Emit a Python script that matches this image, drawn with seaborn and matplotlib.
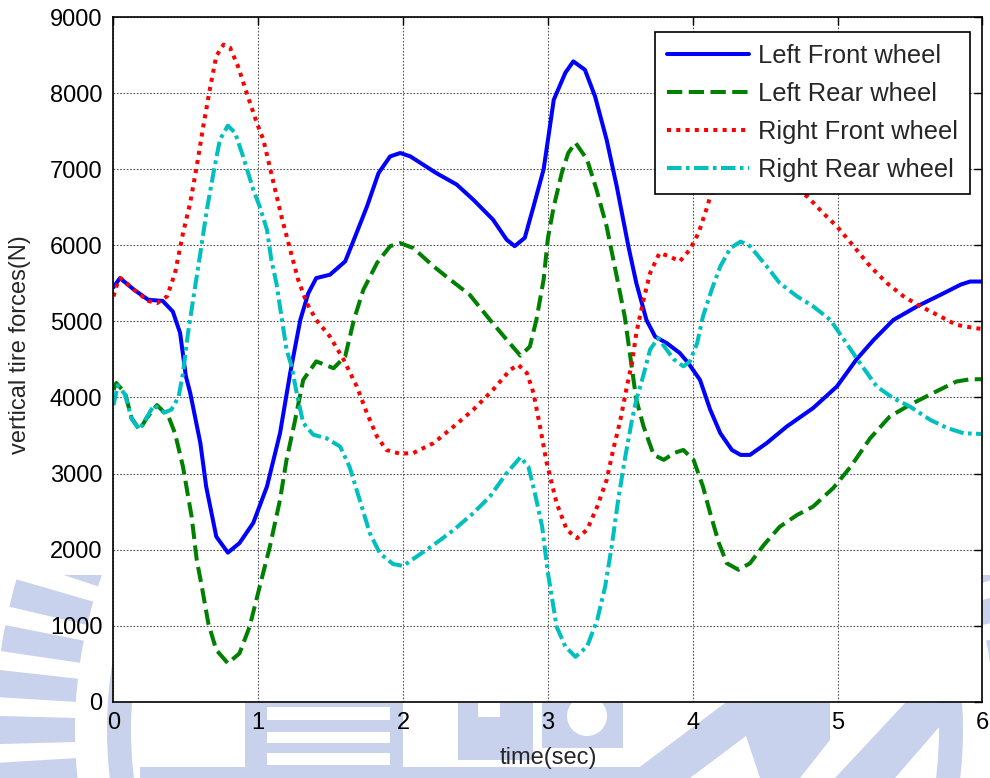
import numpy as np
import pandas as pd
import matplotlib
matplotlib.use("Agg")
import matplotlib.pyplot as plt
import matplotlib.patches as mpatches
from matplotlib.transforms import IdentityTransform
import seaborn as sns

# ---- tire force traces (time in s, force in N) ----
lf_time = [0, 0.045, 0.14, 0.24, 0.34, 0.41, 0.46, 0.50, 0.53, 0.60, 0.64, 0.71,
           0.79, 0.87, 0.965, 1.06, 1.15, 1.22, 1.29, 1.345, 1.40, 1.495, 1.60,
           1.66, 1.75, 1.83, 1.91, 1.98, 2.05, 2.23, 2.37, 2.485, 2.62, 2.715,
           2.77, 2.84, 2.90, 2.97, 3.01, 3.04, 3.12, 3.175, 3.255, 3.325, 3.405,
           3.475, 3.555, 3.61, 3.68, 3.74, 3.82, 3.91, 3.97, 4.05, 4.12, 4.19,
           4.27, 4.33, 4.395, 4.51, 4.65, 4.83, 4.995, 5.13, 5.25, 5.385, 5.55,
           5.71, 5.85, 5.915, 6.0]
lf_force = [5450, 5570, 5420, 5285, 5270, 5130, 4850, 4280, 4060, 3400, 2830, 2170,
            1960, 2085, 2350, 2830, 3530, 4320, 5020, 5370, 5570, 5615, 5790,
            6075, 6510, 6950, 7170, 7215, 7170, 6950, 6800, 6600, 6340, 6075,
            5990, 6100, 6510, 7000, 7520, 7915, 8270, 8420, 8310, 7960, 7390,
            6775, 5990, 5505, 5020, 4800, 4715, 4585, 4450, 4230, 3840, 3530,
            3310, 3245, 3245, 3400, 3620, 3860, 4145, 4500, 4760, 5020, 5200,
            5350, 5485, 5525, 5525]

lr_time = [0, 0.02, 0.08, 0.125, 0.18, 0.23, 0.30, 0.38, 0.425, 0.48, 0.54, 0.575,
           0.61, 0.655, 0.71, 0.79, 0.87, 0.94, 1.01, 1.08, 1.15, 1.195, 1.25,
           1.31, 1.40, 1.52, 1.60, 1.66, 1.725, 1.82, 1.91, 1.98, 2.07, 2.21,
           2.325, 2.46, 2.60, 2.715, 2.81, 2.875, 2.92, 2.97, 3.00, 3.04, 3.095,
           3.14, 3.19, 3.27, 3.335, 3.405, 3.475, 3.53, 3.565, 3.61, 3.66, 3.73,
           3.80, 3.87, 3.935, 4.005, 4.07, 4.12, 4.18, 4.235, 4.315, 4.395, 4.49,
           4.60, 4.72, 4.83, 4.97, 5.09, 5.225, 5.36, 5.50, 5.66, 5.82, 5.915, 6.0]
lr_force = [4100, 4190, 4060, 3730, 3575, 3730, 3900, 3750, 3530, 3090, 2430, 1865,
            1515, 1030, 680, 505, 635, 985, 1515, 2040, 2655, 3180, 3665,
            4230, 4475, 4385, 4540, 5020, 5415, 5770, 5990, 6030, 5965, 5725,
            5550, 5350, 5020, 4760, 4550, 4670, 5020, 5550, 6100, 6510, 6950,
            7215, 7350, 7130, 6735, 6250, 5590, 5065, 4585, 3970, 3620, 3245,
            3180, 3270, 3310, 3180, 2830, 2480, 2085, 1820, 1735, 1820, 2060,
            2300, 2455, 2565, 2810, 3090, 3465, 3750, 3905, 4060, 4210, 4240, 4240]

rf_time = [0, 0.035, 0.05, 0.14, 0.24, 0.30, 0.37, 0.425, 0.48, 0.53, 0.575, 0.62,
           0.665, 0.71, 0.76, 0.805, 0.86, 0.92, 0.99, 1.035, 1.10, 1.16, 1.22,
           1.275, 1.335, 1.40, 1.495, 1.59, 1.68, 1.75, 1.82, 1.885, 1.98, 2.07,
           2.21, 2.35, 2.485, 2.62, 2.74, 2.795, 2.855, 2.90, 2.945, 2.99, 3.06,
           3.13, 3.20, 3.27, 3.34, 3.405, 3.45, 3.50, 3.545, 3.58, 3.61, 3.66,
           3.705, 3.77, 3.84, 3.91, 3.98, 4.04, 4.10, 4.14, 4.25, 4.40, 4.55,
           4.69, 4.79, 4.90, 4.995, 5.11, 5.225, 5.34, 5.455, 5.57, 5.71, 5.82,
           5.94, 6.0]
rf_force = [5330, 5550, 5570, 5420, 5270, 5240, 5330, 5635, 6160, 6560, 7040, 7565,
            8050, 8490, 8640, 8600, 8355, 8005, 7610, 7390, 6865, 6380, 5945,
            5550, 5240, 5020, 4800, 4495, 4145, 3795, 3485, 3310, 3260, 3270,
            3400, 3620, 3840, 4100, 4365, 4430, 4320, 4060, 3620, 3150, 2610,
            2260, 2150, 2260, 2565, 2915, 3310, 3705, 4145, 4450, 4850, 5285,
            5635, 5900, 5855, 5790, 5945, 6165, 6510, 6775, 6950, 7000, 6900,
            6735, 6645, 6425, 6250, 5990, 5725, 5505, 5330, 5200, 5065, 4955,
            4915, 4900]

rr_time = [0, 0.03, 0.08, 0.125, 0.18, 0.23, 0.28, 0.35, 0.40, 0.45, 0.48, 0.515,
           0.55, 0.60, 0.645, 0.69, 0.735, 0.79, 0.84, 0.895, 0.965, 1.01, 1.06,
           1.09, 1.125, 1.16, 1.195, 1.23, 1.265, 1.31, 1.38, 1.47, 1.565, 1.63,
           1.70, 1.77, 1.84, 1.93, 2.00, 2.095, 2.21, 2.35, 2.485, 2.60, 2.715,
           2.81, 2.865, 2.91, 2.96, 3.00, 3.06, 3.12, 3.19, 3.27, 3.34, 3.395,
           3.44, 3.485, 3.53, 3.58, 3.61, 3.66, 3.705, 3.76, 3.87, 3.935, 3.98,
           4.03, 4.07, 4.13, 4.19, 4.26, 4.33, 4.395, 4.51, 4.60, 4.72, 4.83,
           4.95, 5.06, 5.155, 5.27, 5.385, 5.50, 5.64, 5.755, 5.87, 6.0]
rr_force = [3900, 4160, 4040, 3720, 3580, 3740, 3900, 3800, 3840, 4010, 4320, 4850,
            5285, 5900, 6470, 6950, 7390, 7575, 7480, 7170, 6735, 6510, 6205,
            5810, 5505, 5065, 4630, 4410, 4060, 3665, 3510, 3465, 3355, 3090,
            2655, 2215, 1950, 1810, 1785, 1910, 2060, 2260, 2480, 2700, 3005,
            3215, 3090, 2740, 2300, 1690, 985, 725, 590, 725, 1075, 1515,
            2040, 2655, 3180, 3705, 3970, 4300, 4630, 4780, 4500, 4410, 4475,
            4715, 5065, 5415, 5725, 5965, 6050, 5990, 5725, 5505, 5330, 5200,
            5020, 4715, 4450, 4145, 3990, 3880, 3705, 3600, 3530, 3520]

series_names = ["Left Front wheel", "Left Rear wheel",
                "Right Front wheel", "Right Rear wheel"]
x_ticks = [0, 1, 2, 3, 4, 5, 6]
y_ticks = [0, 1000, 2000, 3000, 4000, 5000, 6000, 7000, 8000, 9000]

frames = []
for name, t, f in zip(series_names,
                      [lf_time, lr_time, rf_time, rr_time],
                      [lf_force, lr_force, rf_force, rr_force]):
    frames.append(pd.DataFrame({"time": t, "force": f, "wheel": name}))
data = pd.concat(frames, ignore_index=True)

sns.set_style("white")
plt.rcParams["font.family"] = ["Liberation Sans", "DejaVu Sans"]

W, H = 990, 778
fig = plt.figure(figsize=(W / 100, H / 100), dpi=100)
ax = fig.add_axes([0.1146, 0.0981, 0.8778, 0.8797])
ax.patch.set_facecolor("white")
ax.patch.set_alpha(1.0)

# ---- faint emblem watermark in the page margins (pixel coordinates) ----
mark = "#c9d2ec"
pix = IdentityTransform()
clip = mpatches.Rectangle((0, 0), W, H - 575, transform=pix)


def img(pts):
    """Convert (x, y-from-top) pixel points to display coordinates."""
    return [(x, H - y) for x, y in pts]


def add_mark(p):
    p.set_transform(pix)
    p.set_zorder(-5)
    p.set_clip_path(clip)
    fig.patches.append(p)


cx, cy = 535, H - 730
add_mark(mpatches.Wedge((cx, cy), 540, 0, 360, width=80, facecolor=mark,
                        edgecolor="none"))
for ang in [162.8, 167.8, 172.6, 177.5, 182.5, 7.2, 2.4, -2.5, 12.2, 17.2]:
    add_mark(mpatches.Wedge((cx, cy), 550, ang - 1.0, ang + 1.0, width=96,
                            facecolor="white", edgecolor="none"))
add_mark(mpatches.Wedge((cx, cy), 428, 0, 360, width=24, facecolor=mark,
                        edgecolor="none"))
# central building with horizontal bands
add_mark(mpatches.Polygon(img([(245, 703), (403, 703), (403, 767), (245, 767)]),
                          facecolor=mark, edgecolor="none"))
for y0, y1 in [(707, 720), (732, 743), (753, 765)]:
    add_mark(mpatches.Polygon(img([(267, y0), (390, y0), (390, y1), (267, y1)]),
                              facecolor="white", edgecolor="none"))
add_mark(mpatches.Polygon(img([(140, 767), (640, 767), (640, 778), (140, 778)]),
                          facecolor=mark, edgecolor="none"))
add_mark(mpatches.Polygon(img([(458, 703), (533, 703), (533, 760), (458, 760)]),
                          facecolor=mark, edgecolor="none"))
add_mark(mpatches.Polygon(img([(478, 703), (500, 703), (500, 717), (478, 717)]),
                          facecolor="white", edgecolor="none"))
add_mark(mpatches.Polygon(img([(542, 703), (623, 703), (623, 748), (542, 748)]),
                          facecolor=mark, edgecolor="none"))
add_mark(mpatches.Circle((587, H - 716), 20, facecolor="white",
                         edgecolor="none"))
add_mark(mpatches.Polygon(img([(625, 778), (690, 778), (790, 703), (725, 703)]),
                          facecolor=mark, edgecolor="none"))
add_mark(mpatches.Polygon(img([(735, 703), (830, 703), (830, 740), (800, 778),
                               (760, 778)]),
                          facecolor=mark, edgecolor="none"))
add_mark(mpatches.Polygon(img([(835, 778), (895, 778), (960, 703), (905, 703)]),
                          facecolor=mark, edgecolor="none"))

styles = {
    "Left Front wheel": dict(color="#0000ff", linestyle="-"),
    "Left Rear wheel": dict(color="#008000", linestyle=(0, (3.8, 1.6))),
    "Right Front wheel": dict(color="#ff0000", linestyle=(0, (1.0, 1.3))),
    "Right Rear wheel": dict(color="#00bfbf", linestyle=(0, (3.6, 1.1, 0.9, 1.1))),
}

for name in series_names:
    sub = data[data["wheel"] == name]
    sns.lineplot(data=sub, x="time", y="force", ax=ax, sort=False,
                 estimator=None, linewidth=2.9, label=name, **styles[name])

ax.set_xlim(0, 6)
ax.set_ylim(0, 9000)
ax.set_xticks(x_ticks)
ax.set_yticks(y_ticks)
ax.set_xticklabels([str(v) for v in x_ticks])
ax.set_yticklabels([str(v) for v in y_ticks])

ax.grid(True, color="#555555", linestyle=(0, (1.5, 1.5)), linewidth=0.8)
ax.set_axisbelow(True)
for sp in ax.spines.values():
    sp.set_visible(True)
    sp.set_color("black")
    sp.set_linewidth(1.2)

ax.tick_params(axis="both", which="major", direction="in", length=6, width=1,
               top=True, right=True, labelsize=17, colors="black")
ax.tick_params(axis="y", pad=8)
ax.tick_params(axis="x", pad=7.5)

ax.set_xlabel("time(sec)", fontsize=17, labelpad=9)
ax.set_ylabel("vertical tire forces(N)", fontsize=17)
ax.yaxis.set_label_coords(-0.095, 0.521)

leg = ax.legend(loc="upper right", bbox_to_anchor=(0.9856, 0.978),
                borderaxespad=0, fontsize=18.4, frameon=True, fancybox=False,
                framealpha=1, edgecolor="black", handlelength=3.2,
                handletextpad=0.34, labelspacing=0.54, borderpad=0.47)
leg.get_frame().set_linewidth(1.2)

fig.savefig("out.png", dpi=100, facecolor="white")
